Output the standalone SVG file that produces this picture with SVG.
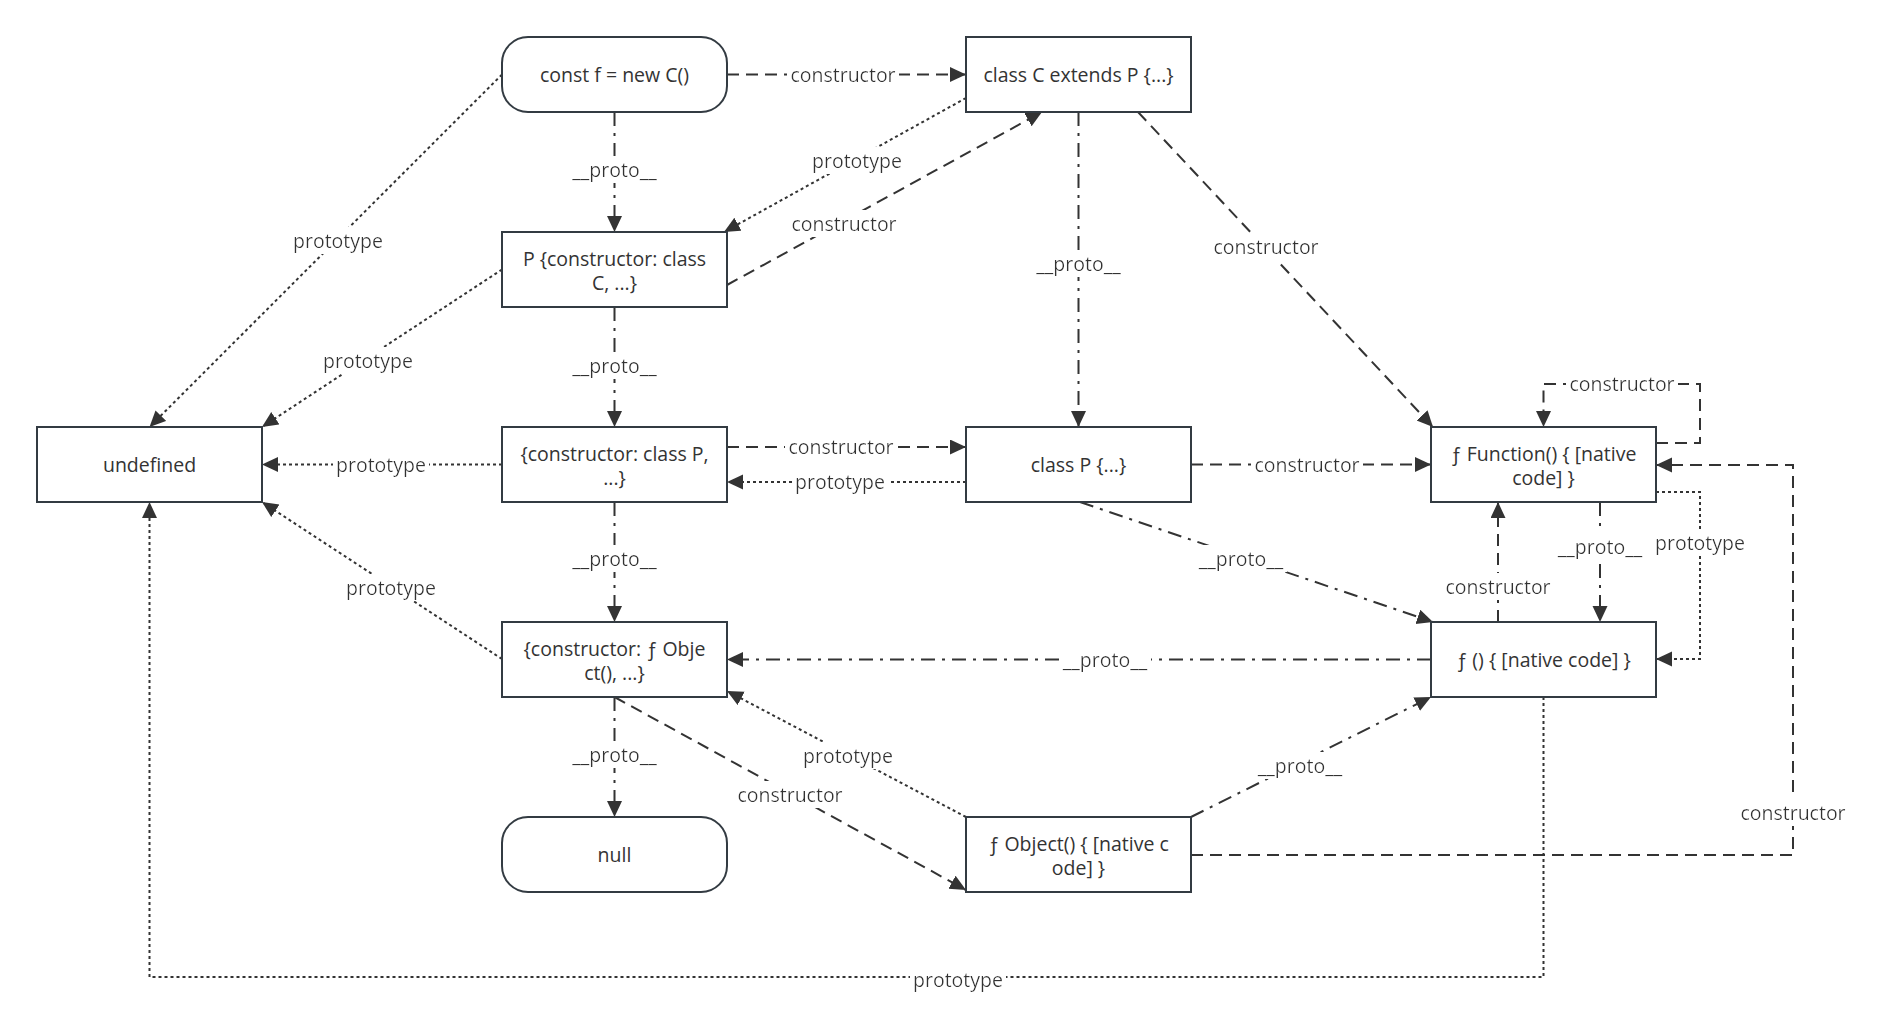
<svg xmlns="http://www.w3.org/2000/svg" width="1879" height="1015" viewBox="0 0 1879 1015">
<style>
.node rect{fill:#fff;stroke:#333b42;stroke-width:2}
.node text,.lbl{font-family:"Open Sans","Noto Sans","DejaVu Sans",sans-serif;font-size:19.5px;fill:#333;text-anchor:middle}
.lbl{filter:url(#lbg)}
.e{fill:none;stroke:#333;stroke-width:2;marker-end:url(#ah)}
.pt{stroke-dasharray:3 3}
.ct{stroke-dasharray:12 7}
.pr{stroke-dasharray:14 7 3 7}
</style>
<defs>
<marker id="ah" markerUnits="userSpaceOnUse" markerWidth="17" markerHeight="16" refX="16" refY="7.5" orient="auto"><path d="M0,0 L16,7.5 L0,15 Z" fill="#333"/></marker>
<filter id="lbg" x="-0.03" y="0" width="1.06" height="1"><feFlood flood-color="#fff"/><feComposite in="SourceGraphic" operator="over"/></filter>
</defs>
<rect width="1879" height="1015" fill="#fff"/>
<g id="connectors">
<path class="e ct" d="M727,74.5 L966,74.5"/>
<path class="e pr" d="M614.5,112 L614.5,232"/>
<path class="e pt" d="M502,74.5 L149.5,427"/>
<path class="e pt" d="M966,98 L724,232"/>
<path class="e ct" d="M727,285 L1042,112"/>
<path class="e pt" d="M502,269.5 L262,427"/>
<path class="e pr" d="M614.5,307 L614.5,427"/>
<path class="e pr" d="M1078.5,112 L1078.5,427"/>
<path class="e ct" d="M1138,112 L1433,427"/>
<path class="e ct" d="M727,447 L966,447"/>
<path class="e pt" d="M966,482 L727,482"/>
<path class="e pt" d="M502,464.5 L262,464.5"/>
<path class="e pr" d="M614.5,502 L614.5,622"/>
<path class="e ct" d="M1191,464.5 L1431,464.5"/>
<path class="e pr" d="M1080,502 L1433,622"/>
<path class="e ct" d="M1656,443 L1700,443 L1700,384 L1543.5,384 L1543.5,427"/>
<path class="e pr" d="M1600,502 L1600,622"/>
<path class="e pt" d="M1656,492 L1700,492 L1700,659 L1656,659"/>
<path class="e ct" d="M1498,622 L1498,502"/>
<path class="e pr" d="M1431,659.5 L727,659.5"/>
<path class="e pt" d="M502,659 L262,502"/>
<path class="e pr" d="M614.5,697 L614.5,817"/>
<path class="e ct" d="M614.5,697 L966,890"/>
<path class="e pt" d="M966,817 L727,691"/>
<path class="e pr" d="M1191,817 L1431,697"/>
<path class="e ct" d="M1191,855 L1793,855 L1793,465 L1656,465"/>
<path class="e pt" d="M1543.5,697 L1543.5,977 L149.5,977 L149.5,502"/>
<text class="lbl" x="843" y="81.5">constructor</text>
<text class="lbl" x="614.5" y="177">__proto__</text>
<text class="lbl" x="338" y="248">prototype</text>
<text class="lbl" x="857" y="168">prototype</text>
<text class="lbl" x="844" y="231">constructor</text>
<text class="lbl" x="368" y="368">prototype</text>
<text class="lbl" x="614.5" y="373">__proto__</text>
<text class="lbl" x="1078.5" y="271">__proto__</text>
<text class="lbl" x="1266" y="254">constructor</text>
<text class="lbl" x="841" y="454">constructor</text>
<text class="lbl" x="840" y="489">prototype</text>
<text class="lbl" x="381" y="471.5">prototype</text>
<text class="lbl" x="614.5" y="566">__proto__</text>
<text class="lbl" x="1307" y="471.5">constructor</text>
<text class="lbl" x="1241" y="566">__proto__</text>
<text class="lbl" x="1622" y="391">constructor</text>
<text class="lbl" x="1600" y="554">__proto__</text>
<text class="lbl" x="1700" y="550">prototype</text>
<text class="lbl" x="1498" y="594">constructor</text>
<text class="lbl" x="1105" y="666.5">__proto__</text>
<text class="lbl" x="391" y="595">prototype</text>
<text class="lbl" x="614.5" y="762">__proto__</text>
<text class="lbl" x="790" y="802">constructor</text>
<text class="lbl" x="848" y="763">prototype</text>
<text class="lbl" x="1300" y="773">__proto__</text>
<text class="lbl" x="1793" y="820">constructor</text>
<text class="lbl" x="958" y="987">prototype</text>
</g>
<g id="n-constf" class="node"><rect x="502" y="37" width="225" height="75" rx="26" ry="26"/><text x="614.5" y="81.5">const f = new C()</text></g>
<g id="n-classC" class="node"><rect x="966" y="37" width="225" height="75"/><text x="1078.5" y="81.5">class C extends P {...}</text></g>
<g id="n-P" class="node"><rect x="502" y="232" width="225" height="75"/><text x="614.5" y="266">P {constructor: class</text><text x="614.5" y="290">C, ...}</text></g>
<g id="n-undefined" class="node"><rect x="37" y="427" width="225" height="75"/><text x="149.5" y="471.5">undefined</text></g>
<g id="n-objP" class="node"><rect x="502" y="427" width="225" height="75"/><text x="614.5" y="461">{constructor: class P,</text><text x="614.5" y="485">...}</text></g>
<g id="n-classP" class="node"><rect x="966" y="427" width="225" height="75"/><text x="1078.5" y="471.5">class P {...}</text></g>
<g id="n-Function" class="node"><rect x="1431" y="427" width="225" height="75"/><text x="1543.5" y="461">ƒ Function() { [native</text><text x="1543.5" y="485">code] }</text></g>
<g id="n-objO" class="node"><rect x="502" y="622" width="225" height="75"/><text x="614.5" y="656">{constructor: ƒ Obje</text><text x="614.5" y="680">ct(), ...}</text></g>
<g id="n-fproto" class="node"><rect x="1431" y="622" width="225" height="75"/><text x="1543.5" y="666.5">ƒ () { [native code] }</text></g>
<g id="n-null" class="node"><rect x="502" y="817" width="225" height="75" rx="26" ry="26"/><text x="614.5" y="861.5">null</text></g>
<g id="n-Object" class="node"><rect x="966" y="817" width="225" height="75"/><text x="1078.5" y="851">ƒ Object() { [native c</text><text x="1078.5" y="875">ode] }</text></g>
</svg>
